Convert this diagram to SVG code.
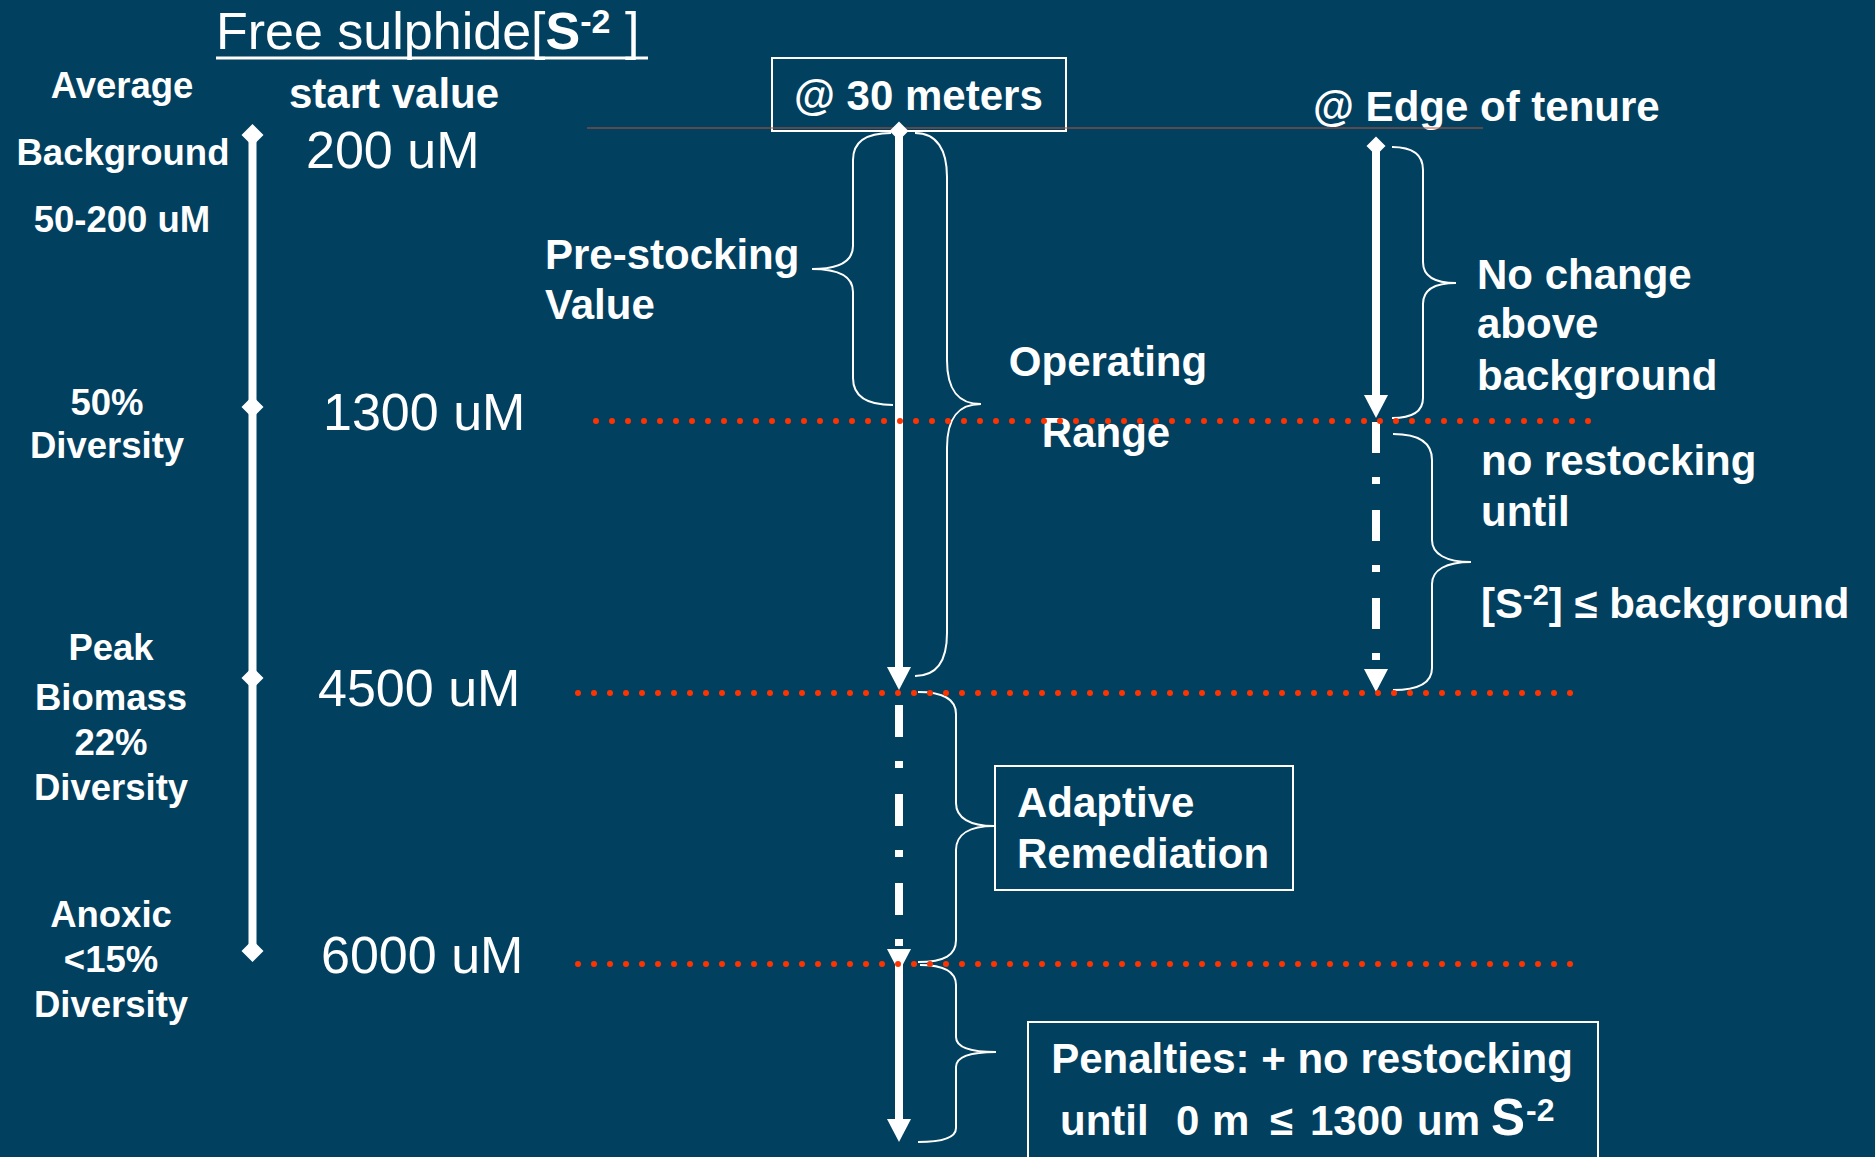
<svg xmlns="http://www.w3.org/2000/svg" width="1875" height="1157" viewBox="0 0 1875 1157">
<style>
.t{font-family:"Liberation Sans",Arial,Helvetica,sans-serif;fill:#fff}
.b{font-weight:bold}
.s36{font-size:36.5px}
.s42{font-size:42px}
.s52{font-size:52px}
.mid{text-anchor:middle}
.brace{fill:none;stroke:#fff;stroke-width:2}
.dots{fill:none;stroke:#FF3300;stroke-width:6;stroke-linecap:round;stroke-dasharray:0 16}
.solid{stroke:#fff;stroke-width:8;fill:none}
.dashdot{stroke:#fff;stroke-width:8;fill:none;stroke-dasharray:31 24 7 26}
.box{fill:none;stroke:#fff;stroke-width:2}
.wf{fill:#fff}
</style>
<defs>
<path id="ahead" d="M-12,-23 L12,-23 L0,0 Z"/>
<path id="diam" d="M0,-11 L11,0 L0,11 L-11,0 Z"/>
<path id="diamS" d="M0,-9.5 L9.5,0 L0,9.5 L-9.5,0 Z"/>
</defs>
<rect x="0" y="0" width="1875" height="1157" fill="#01405F"/>

<g id="title">
<text class="t s52" x="216" y="49">Free sulphide[<tspan class="b">S</tspan><tspan class="b" font-size="34" dy="-16">-2</tspan><tspan dy="16"> ]</tspan></text>
<line x1="216" y1="58" x2="648" y2="58" stroke="#fff" stroke-width="3"/>
</g>

<g id="left-labels">
<text class="t b s36 mid" x="122" y="98">Average</text>
<text class="t b s36 mid" x="123" y="165">Background</text>
<text class="t b s36 mid" x="122" y="232">50-200 uM</text>
<text class="t b s36 mid" x="107" y="415">50%</text>
<text class="t b s36 mid" x="107" y="458">Diversity</text>
<text class="t b s36 mid" x="111" y="660">Peak</text>
<text class="t b s36 mid" x="111" y="710">Biomass</text>
<text class="t b s36 mid" x="111" y="755">22%</text>
<text class="t b s36 mid" x="111" y="800">Diversity</text>
<text class="t b s36 mid" x="111" y="927">Anoxic</text>
<text class="t b s36 mid" x="111" y="972">&lt;15%</text>
<text class="t b s36 mid" x="111" y="1017">Diversity</text>
</g>

<g id="values">
<text class="t b s42" x="289" y="108">start value</text>
<text class="t s52" x="306" y="168">200 uM</text>
<text class="t s52" x="323" y="430">1300 uM</text>
<text class="t s52" x="318" y="706">4500 uM</text>
<text class="t s52" x="321" y="973">6000 uM</text>
</g>

<g id="node-30m">
<rect class="box" x="772" y="58" width="294" height="73"/>
<text class="t b s42" x="794" y="110">@ 30 meters</text>
</g>

<g id="node-edge">
<text class="t b s42" x="1313" y="121">@ Edge of tenure</text>
</g>

<g id="node-prestocking">
<text class="t b s42" x="545" y="269">Pre-stocking</text>
<text class="t b s42" x="545" y="319">Value</text>
</g>

<g id="node-operating">
<text class="t b s42 mid" x="1108" y="376">Operating</text>
<text class="t b s42 mid" x="1106" y="447">Range</text>
</g>

<g id="node-nochange">
<text class="t b s42" x="1477" y="289">No change</text>
<text class="t b s42" x="1477" y="338">above</text>
<text class="t b s42" x="1477" y="390">background</text>
</g>

<g id="node-norestock">
<text class="t b s42" x="1481" y="475">no restocking</text>
<text class="t b s42" x="1481" y="526">until</text>
<text class="t b s42" x="1481" y="618">[S<tspan font-size="29" dy="-13">-2</tspan><tspan dy="13">] ≤ background</tspan></text>
</g>

<g id="node-adaptive">
<rect class="box" x="995" y="766" width="298" height="124"/>
<text class="t b s42" x="1017" y="817">Adaptive</text>
<text class="t b s42" x="1017" y="868">Remediation</text>
</g>

<g id="node-penalties">
<rect class="box" x="1028" y="1022" width="570" height="150"/>
<text class="t b s42 mid" x="1312" y="1073">Penalties: + no restocking</text>
<text class="t b s42" y="1135"><tspan x="1060">until</tspan><tspan x="1176">0</tspan><tspan x="1212">m</tspan><tspan x="1270">≤</tspan><tspan x="1310">1300</tspan><tspan x="1417">um</tspan><tspan x="1491" font-size="51">S</tspan><tspan x="1526" font-size="32" dy="-14">-2</tspan></text>
</g>

<g id="connectors">
<line x1="587" y1="128" x2="1483" y2="128" stroke="#B8533A" stroke-width="1"/>
<line class="solid" x1="252.5" y1="135" x2="252.5" y2="951" stroke-width="7.5"/>
<use href="#diam" x="252.5" y="135" class="wf"/>
<use href="#diam" x="252.5" y="407" class="wf"/>
<use href="#diam" x="252.5" y="678" class="wf"/>
<use href="#diam" x="252.5" y="951" class="wf"/>
<line class="solid" x1="899" y1="131" x2="899" y2="669"/>
<use href="#diamS" x="899" y="131" class="wf"/>
<use href="#ahead" x="899" y="690" class="wf"/>
<line class="dashdot" x1="899" y1="705" x2="899" y2="951" style="stroke-dasharray:32 24 7 26"/>
<use href="#ahead" x="899" y="972" class="wf"/>
<line class="solid" x1="899" y1="964" x2="899" y2="1120"/>
<use href="#ahead" x="899" y="1142" class="wf"/>
<line class="solid" x1="1376" y1="146" x2="1376" y2="397"/>
<use href="#diamS" x="1376" y="146" class="wf"/>
<use href="#ahead" x="1376" y="418" class="wf"/>
<line class="dashdot" x1="1376" y1="422" x2="1376" y2="668"/>
<use href="#ahead" x="1376" y="692" class="wf"/>
<path class="brace" d="M891 133 C866 133 853 142 853 160 L853 246 C853 262 838 269 812 269 C838 269 853 276 853 292 L853 378 C853 396 866 405 893 405"/>
<path class="brace" d="M915 133 C937 133 947 150 947 177 L947 360 C947 390 958 404 981 404 C958 404 947 418 947 448 L947 633 C947 660 937 676 915 676"/>
<path class="brace" d="M1392 147 C1413 147 1423 155 1423 170 L1423 262 C1423 276 1434 283 1456 283 C1434 283 1423 290 1423 304 L1423 398 C1423 411 1413 418 1392 418"/>
<path class="brace" d="M1393 434 C1420 434 1432 443 1432 460 L1432 540 C1432 554 1446 562 1471 562 C1446 562 1432 570 1432 584 L1432 668 C1432 682 1420 690 1393 690"/>
<path class="brace" d="M918 692 C945 692 956 700 956 714 L956 803 C956 818 970 826 994 826 C970 826 956 834 956 850 L956 940 C956 955 945 962 918 962"/>
<path class="brace" d="M920 965 C945 965 956 972 956 985 L956 1037 C956 1047 970 1052 996 1052 C970 1052 956 1057 956 1067 L956 1128 C956 1137 945 1142 918 1142"/>
<line class="dots" x1="596" y1="421" x2="1589" y2="421"/>
<line class="dots" x1="578" y1="693" x2="1573" y2="693"/>
<line class="dots" x1="578" y1="964" x2="1573" y2="964"/>
</g>
</svg>
